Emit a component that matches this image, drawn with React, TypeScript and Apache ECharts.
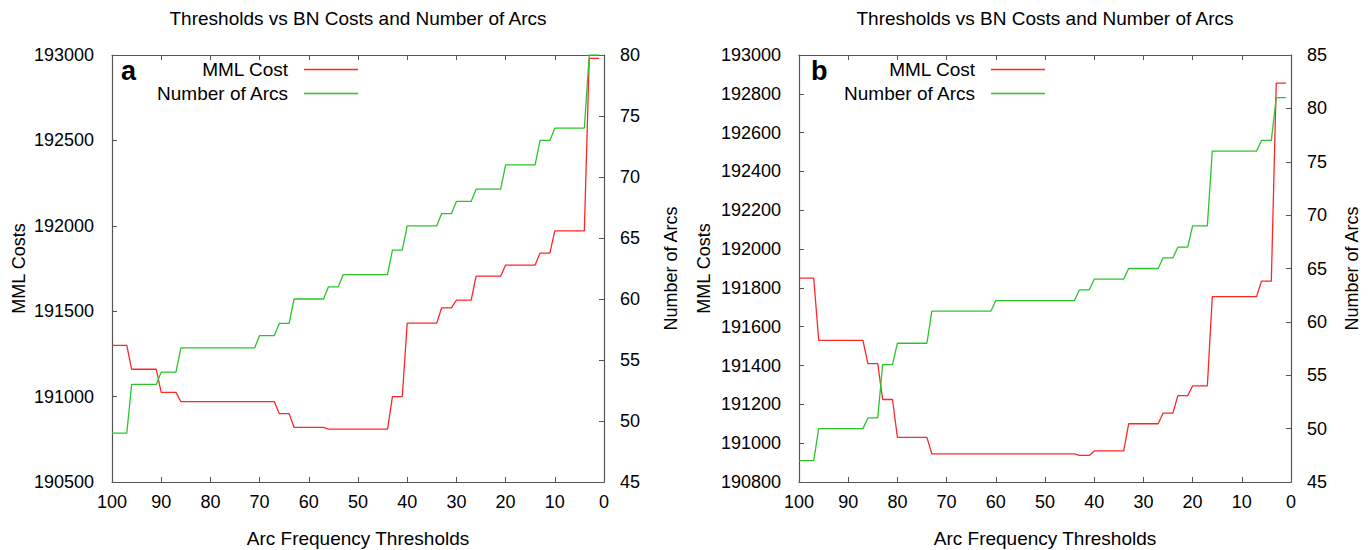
import React, { useEffect, useRef } from 'react';
import * as echarts from 'echarts';

const TITLE = 'Thresholds vs BN Costs and Number of Arcs';
const X_NAME = 'Arc Frequency Thresholds';
const Y_LEFT_NAME = 'MML Costs';
const Y_RIGHT_NAME = 'Number of Arcs';
const COST_NAME = 'MML Cost';
const ARCS_NAME = 'Number of Arcs';

// Panel a: [threshold, value]
const costA: [number, number][] = [
  [100, 191300], [97, 191300], [96, 191160], [91, 191160], [90, 191025], [87, 191025],
  [86, 190970], [67, 190970], [66, 190900], [64, 190900], [63, 190820], [57, 190820],
  [56, 190810], [44, 190810], [43, 191000], [41, 191000], [40, 191430], [34, 191430],
  [33, 191520], [31, 191520], [30, 191565], [27, 191565], [26, 191705], [21, 191705],
  [20, 191770], [14, 191770], [13, 191840], [11, 191840], [10, 191970], [4, 191970],
  [3, 192980], [1, 192980],
];
const arcsA: [number, number][] = [
  [100, 49], [97, 49], [96, 53], [91, 53], [90, 54], [87, 54], [86, 56], [71, 56],
  [70, 57], [67, 57], [66, 58], [64, 58], [63, 60], [57, 60], [56, 61], [54, 61],
  [53, 62], [44, 62], [43, 64], [41, 64], [40, 66], [34, 66], [33, 67], [31, 67],
  [30, 68], [27, 68], [26, 69], [21, 69], [20, 71], [14, 71], [13, 73], [11, 73],
  [10, 74], [4, 74], [3, 80], [1, 80],
];

// Panel b
const costB: [number, number][] = [
  [100, 191850], [97, 191850], [96, 191530], [87, 191530], [86, 191410], [84, 191410],
  [83, 191225], [81, 191225], [80, 191030], [74, 191030], [73, 190945], [44, 190945],
  [43, 190937], [41, 190937], [40, 190960], [34, 190960], [33, 191100], [27, 191100],
  [26, 191155], [24, 191155], [23, 191245], [21, 191245], [20, 191295], [17, 191295],
  [16, 191755], [7, 191755], [6, 191835], [4, 191835], [3, 192855], [1, 192855],
];
const arcsB: [number, number][] = [
  [100, 47], [97, 47], [96, 50], [87, 50], [86, 51], [84, 51], [83, 56], [81, 56],
  [80, 58], [74, 58], [73, 61], [61, 61], [60, 62], [44, 62], [43, 63], [41, 63],
  [40, 64], [34, 64], [33, 65], [27, 65], [26, 66], [24, 66], [23, 67], [21, 67],
  [20, 69], [17, 69], [16, 76], [7, 76], [6, 77], [4, 77], [3, 81], [1, 81],
];

// axis ranges
const xRange = { min: 0, max: 100, interval: 10 };
const yLeftA = { min: 190500, max: 193000, interval: 500 };
const yRightA = { min: 45, max: 80, interval: 5 };
const yLeftB = { min: 190800, max: 193000, interval: 200 };
const yRightB = { min: 45, max: 85, interval: 5 };

const FONT = '"Liberation Sans", Arial, Helvetica, sans-serif';
const AXIS_COLOR = '#555555';
const RED = '#ff2626';
const GREEN = '#2bc42b';
const TICK_FONT = 18;
const NAME_FONT = 18;
const TEXT_FONT = 19;

const W = 1372;
const H = 550;
const gridA = { left: 112, right: 604, top: 55, bottom: 482 };
const gridB = { left: 799, right: 1291, top: 55, bottom: 482 };

function xAxes(gridIndex: number) {
  const common = {
    type: 'value',
    gridIndex,
    ...xRange,
    inverse: true,
    axisLine: { show: true, onZero: false, lineStyle: { color: AXIS_COLOR, width: 1.2 } },
    axisTick: { show: true, inside: true, length: 5, lineStyle: { color: AXIS_COLOR } },
    splitLine: { show: false },
  };
  return [
    {
      ...common,
      position: 'bottom',
      axisLabel: {
        fontSize: TICK_FONT, color: '#000', fontFamily: FONT, margin: 11,
        formatter: (v: number) => String(v),
      },
      name: X_NAME,
      nameLocation: 'middle',
      nameGap: 47,
      nameTextStyle: { fontSize: TEXT_FONT, color: '#000', fontFamily: FONT },
    },
    { ...common, position: 'top', axisLabel: { show: false } },
  ];
}

function yAxis(gridIndex: number, range: any, position: 'left' | 'right', name: string, nameGap: number) {
  return {
    type: 'value',
    gridIndex,
    ...range,
    position,
    axisLine: { show: true, onZero: false, lineStyle: { color: AXIS_COLOR, width: 1.2 } },
    axisTick: { show: true, inside: true, length: 5, lineStyle: { color: AXIS_COLOR } },
    splitLine: { show: false },
    axisLabel: {
      fontSize: TICK_FONT, color: '#000', fontFamily: FONT,
      margin: position === 'left' ? 18 : 16,
      formatter: (v: number) => String(v),
    },
    name,
    nameLocation: 'middle',
    nameGap,
    nameTextStyle: { fontSize: NAME_FONT, color: '#000', fontFamily: FONT },
  };
}

function line(name: string, data: [number, number][], color: string, xi: number, yi: number) {
  return {
    type: 'line',
    name,
    data,
    xAxisIndex: xi,
    yAxisIndex: yi,
    symbol: 'none',
    showSymbol: false,
    lineStyle: { color, width: 1.3 },
    itemStyle: { color },
  };
}

function legendItem(name: string, iconRight: number, centerY: number) {
  return {
    data: [name],
    right: W - iconRight,
    top: centerY - 11,
    padding: 0,
    align: 'right',
    orient: 'vertical',
    icon: 'rect',
    itemWidth: 54,
    itemHeight: 1.5,
    selectedMode: false,
    textStyle: { fontSize: TEXT_FONT, color: '#000', fontFamily: FONT, padding: [0, 11, 0, 0] },
  };
}

export default function App() {
  const ref = useRef<HTMLDivElement>(null);
  useEffect(() => {
    document.body.style.margin = '0';
    const chart = echarts.init(ref.current!, null, { renderer: 'svg' });
    const gridOf = (g: typeof gridA) => ({
      left: g.left, right: W - g.right, top: g.top, bottom: H - g.bottom,
      containLabel: false, outerBoundsMode: 'none',
    });
    const titleText = (cx: number) => ({
      type: 'text', x: cx, y: 18,
      style: { text: TITLE, fontSize: TEXT_FONT, fontFamily: FONT, fill: '#000', align: 'center', verticalAlign: 'middle' },
    });
    const panelLabel = (text: string, x: number) => ({
      type: 'text', x, y: 71,
      style: { text, fontSize: 27, fontWeight: 'bold', fontFamily: FONT, fill: '#000', align: 'left', verticalAlign: 'middle' },
    });
    const option: any = {
      animation: false,
      backgroundColor: '#ffffff',
      textStyle: { fontFamily: FONT },
      grid: [gridOf(gridA), gridOf(gridB)],
      xAxis: [...xAxes(0), ...xAxes(1)],
      yAxis: [
        yAxis(0, yLeftA, 'left', Y_LEFT_NAME, 84),
        yAxis(0, yRightA, 'right', Y_RIGHT_NAME, 58),
        yAxis(1, yLeftB, 'left', Y_LEFT_NAME, 86),
        yAxis(1, yRightB, 'right', Y_RIGHT_NAME, 52),
      ],
      legend: [
        legendItem(COST_NAME, gridA.right - 246, 71),
        legendItem(ARCS_NAME, gridA.right - 246, 95),
        legendItem(COST_NAME, gridB.right - 246, 71),
        legendItem(ARCS_NAME, gridB.right - 246, 95),
      ],
      graphic: [
        titleText((gridA.left + gridA.right) / 2),
        titleText((gridB.left + gridB.right) / 2),
        panelLabel('a', gridA.left + 9),
        panelLabel('b', gridB.left + 12),
      ],
      series: [
        line(COST_NAME, costA, RED, 0, 0),
        line(ARCS_NAME, arcsA, GREEN, 0, 1),
        line(COST_NAME, costB, RED, 2, 2),
        line(ARCS_NAME, arcsB, GREEN, 2, 3),
      ],
    };
    chart.setOption(option);
    return () => chart.dispose();
  }, []);
  return <div ref={ref} style={{ width: W, height: H }} />;
}
